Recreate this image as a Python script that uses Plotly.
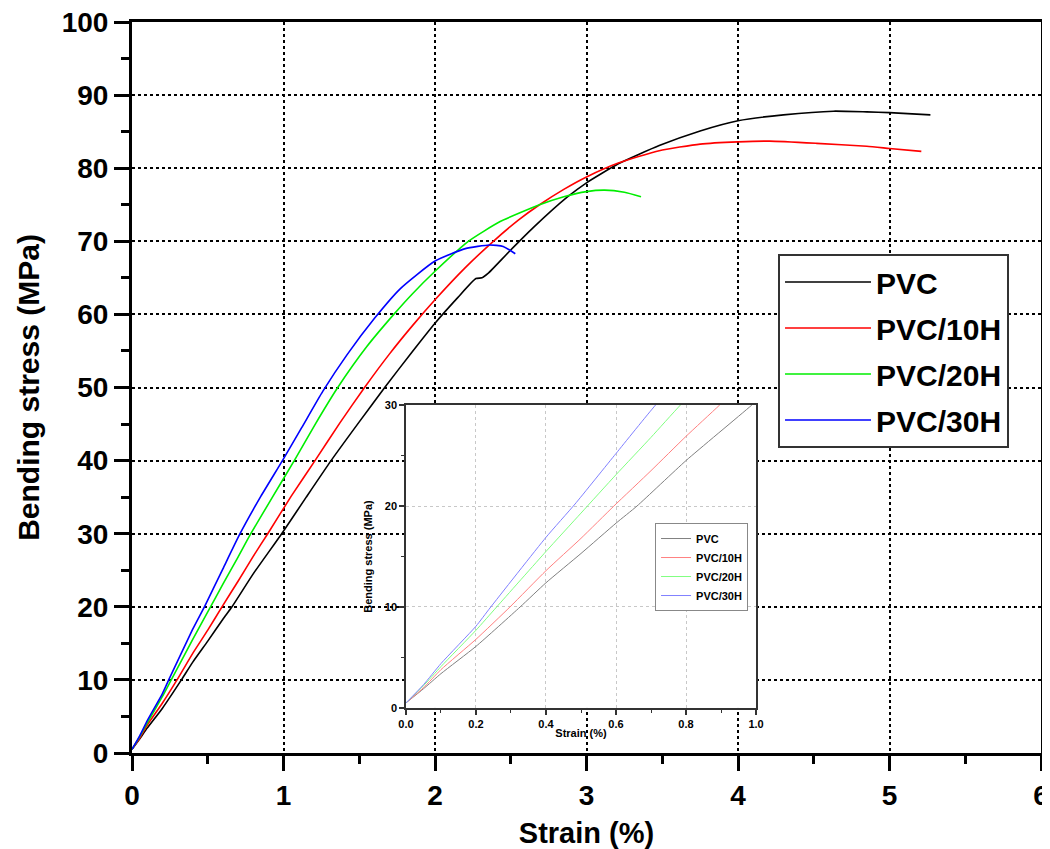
import plotly.graph_objects as go

# ---------------- data ----------------
series_names = ["PVC", "PVC/10H", "PVC/20H", "PVC/30H"]
main_colors = ["#000000", "#ff0000", "#00ee00", "#0000ff"]
inset_colors = ["#808080", "#ff8080", "#80ff80", "#8080ff"]

pvc_strain = [0, 0.05, 0.1, 0.2, 0.326, 0.4, 0.5, 0.6, 0.66, 0.8, 0.988, 1.15, 1.314, 1.5, 1.668,
              1.85, 2.0, 2.15, 2.27, 2.31, 2.35, 2.49, 2.65, 2.87, 3.0, 3.21, 3.48, 3.75, 4.0,
              4.3, 4.63, 4.85, 5.0, 5.27]
pvc_stress = [0.5, 1.9, 3.4, 6.1, 10, 12.4, 15.3, 18.3, 20, 24.5, 30, 35.0, 40, 45.3, 50,
              54.9, 58.8, 62.3, 64.9, 65.0, 65.6, 68.6, 71.9, 76.0, 78.0, 80.6, 83.1, 85.1, 86.5,
              87.3, 87.8, 87.7, 87.6, 87.3]

pvc10_strain = [0, 0.05, 0.1, 0.2, 0.297, 0.4, 0.5, 0.594, 0.7, 0.8, 0.896, 1.05, 1.208, 1.37, 1.535,
                1.7, 1.857, 2.0, 2.2, 2.385, 2.55, 2.69, 2.85, 3.0, 3.21, 3.48, 3.75, 4.0, 4.21,
                4.52, 4.85, 5.0, 5.21]
pvc10_stress = [0.5, 2.0, 3.8, 6.8, 10, 13.6, 16.8, 20, 23.5, 26.9, 30, 35.1, 40, 45.1, 50,
                54.6, 58.6, 62.0, 66.4, 70, 72.9, 75.0, 77.1, 78.8, 80.7, 82.4, 83.3, 83.6, 83.7,
                83.4, 83.0, 82.7, 82.3]

pvc20_strain = [0, 0.05, 0.1, 0.2, 0.259, 0.4, 0.5, 0.6, 0.7, 0.784, 0.93, 1.071, 1.21, 1.358,
                1.55, 1.728, 1.85, 2.0, 2.22, 2.43, 2.69, 2.85, 3.0, 3.12, 3.25, 3.36]
pvc20_stress = [0.5, 2.2, 4.1, 7.7, 10, 15.5, 19.3, 23.1, 26.8, 30, 35.1, 40, 45.0, 50,
                55.6, 60, 62.8, 65.9, 70, 72.7, 75.0, 76.1, 76.8, 77.0, 76.7, 76.1]

pvc30_strain = [0, 0.05, 0.1, 0.2, 0.24, 0.4, 0.483, 0.6, 0.713, 0.85, 0.993, 1.12, 1.26, 1.42, 1.602,
                1.77, 2.0, 2.2, 2.36, 2.45, 2.53]
pvc30_stress = [0.5, 2.3, 4.4, 8.1, 9.9, 16.9, 20.2, 25.2, 30, 35.1, 40, 44.5, 49.5, 54.5, 59.5,
                63.5, 67.3, 69.0, 69.5, 69.3, 68.3]

strains = [pvc_strain, pvc10_strain, pvc20_strain, pvc30_strain]
stresses = [pvc_stress, pvc10_stress, pvc20_stress, pvc30_stress]

x_ticks_main = [0, 1, 2, 3, 4, 5, 6]
y_ticks_main = [0, 10, 20, 30, 40, 50, 60, 70, 80, 90, 100]

FONT = "Arial, 'Liberation Sans', sans-serif"

fig = go.Figure()

# main curves
for i in range(4):
    fig.add_trace(go.Scatter(
        x=strains[i], y=stresses[i], mode="lines", name=series_names[i],
        line=dict(color=main_colors[i], width=1.6, shape="spline", smoothing=0.5),
        legend="legend", legendgroup="m%d" % i, xaxis="x", yaxis="y"))

# inset curves
for i in range(4):
    fig.add_trace(go.Scatter(
        x=strains[i], y=stresses[i], mode="lines", name=series_names[i],
        line=dict(color=inset_colors[i], width=1, shape="spline", smoothing=0.5),
        legend="legend2", xaxis="x2", yaxis="y2"))

main_axis_common = dict(
    showline=True, linewidth=3, linecolor="black", mirror=True,
    ticks="outside", ticklen=15, tickwidth=3, tickcolor="black",
    showgrid=True, gridcolor="black", griddash="dot", gridwidth=1.5,
    zeroline=False, automargin=False, ticklabeloverflow="allow",
    tickfont=dict(family=FONT, size=28, color="black", weight="bold"),
)

inset_axis_common = dict(
    showline=True, linewidth=1.5, linecolor="#333333", mirror=True,
    ticks="outside", ticklen=5, tickwidth=1.5, tickcolor="#333333",
    showgrid=True, gridcolor="#c8c8c8", griddash="dot", gridwidth=1,
    zeroline=False, automargin=False, ticklabeloverflow="allow",
    tickfont=dict(family=FONT, size=11, color="black", weight="bold"),
)

# the page body adds an 8 px offset, so the figure is 8 px smaller on each side
fig.update_layout(
    width=1042, height=841,
    margin=dict(l=124, r=9, t=14, b=96),
    paper_bgcolor="white", plot_bgcolor="white",
    font=dict(family=FONT, color="black"),
    showlegend=True,
    xaxis=dict(
        domain=[0, 1], range=[0, 6], tickvals=x_ticks_main, anchor="y",
        minor=dict(ticks="outside", ticklen=8, tickwidth=3, tickcolor="black", dtick=0.5, showgrid=False),
        title=dict(text="Strain (%)", standoff=16,
                   font=dict(family=FONT, size=29, color="black", weight="bold")),
        **main_axis_common),
    yaxis=dict(
        domain=[0, 1], range=[0, 100], tickvals=y_ticks_main, anchor="x",
        minor=dict(ticks="outside", ticklen=8, tickwidth=3, tickcolor="black", dtick=5, showgrid=False),
        title=dict(text="Bending stress (MPa)", standoff=14,
                   font=dict(family=FONT, size=30, color="black", weight="bold")),
        **main_axis_common),
    xaxis2=dict(
        domain=[0.3014, 0.6865], range=[0, 1], dtick=0.2, tickformat=".1f", anchor="y2",
        minor=dict(ticks="outside", ticklen=3, tickwidth=1.2, tickcolor="#333333", dtick=0.1, showgrid=False),
        title=dict(text="Strain (%)", standoff=0,
                   font=dict(family=FONT, size=11, color="black", weight="bold")),
        **inset_axis_common),
    yaxis2=dict(
        domain=[0.0616, 0.476], range=[0, 30], dtick=10, anchor="x2",
        minor=dict(ticks="outside", ticklen=3, tickwidth=1.2, tickcolor="#333333", dtick=5, showgrid=False),
        title=dict(text="Bending stress (MPa)", standoff=10,
                   font=dict(family=FONT, size=11, color="black", weight="bold")),
        **inset_axis_common),
    legend=dict(
        x=0.7107, y=0.6826, xanchor="left", yanchor="top",
        bgcolor="white", bordercolor="#333333", borderwidth=2,
        font=dict(family=FONT, size=30, color="black", weight="bold"),
        itemwidth=86, traceorder="grouped", tracegroupgap=4),
    legend2=dict(
        x=0.5754, y=0.3146, xanchor="left", yanchor="top",
        bgcolor="white", bordercolor="#888888", borderwidth=1,
        font=dict(family=FONT, size=11, color="black", weight="bold"),
        itemwidth=30, tracegroupgap=0),
)

fig.write_html("out.html")
